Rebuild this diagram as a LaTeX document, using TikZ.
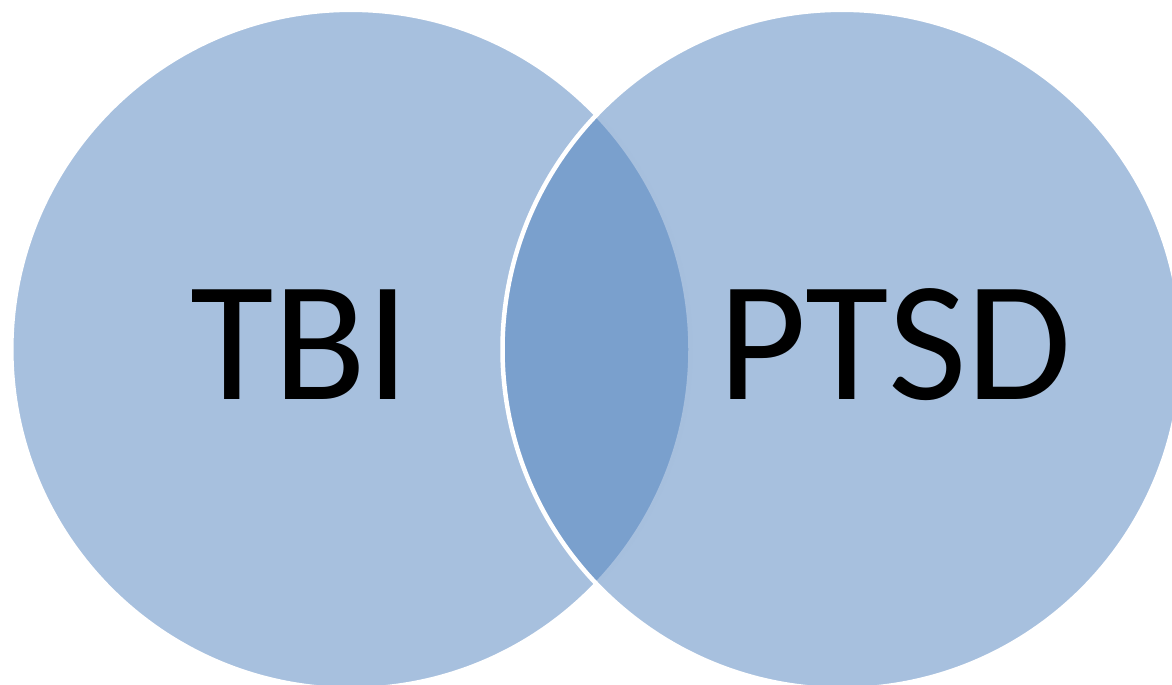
\documentclass[tikz,border=0pt]{standalone}
\usepackage{fontspec}
\setmainfont{Carlito}
\definecolor{vennblue}{RGB}{79,129,189}
\begin{document}
\begin{tikzpicture}[x=1pt,y=-1pt,
  venn/.style={fill=vennblue,fill opacity=0.5,draw=white,line width=4.5pt},
  label/.style={anchor=base,inner sep=0pt,font=\fontsize{171}{171}\selectfont,text=black}]
  \useasboundingbox (0,0) rectangle (1172,685);
  % two overlapping sets
  \path[venn] (350.9,349.4) circle[radius=339.6];
  \path[venn] (842.1,349.4) circle[radius=339.6];
  \node[label] (tbi) at (300,399) {TBI};
  \node[label] (ptsd) at (895,399) {PTSD};
\end{tikzpicture}
\end{document}
